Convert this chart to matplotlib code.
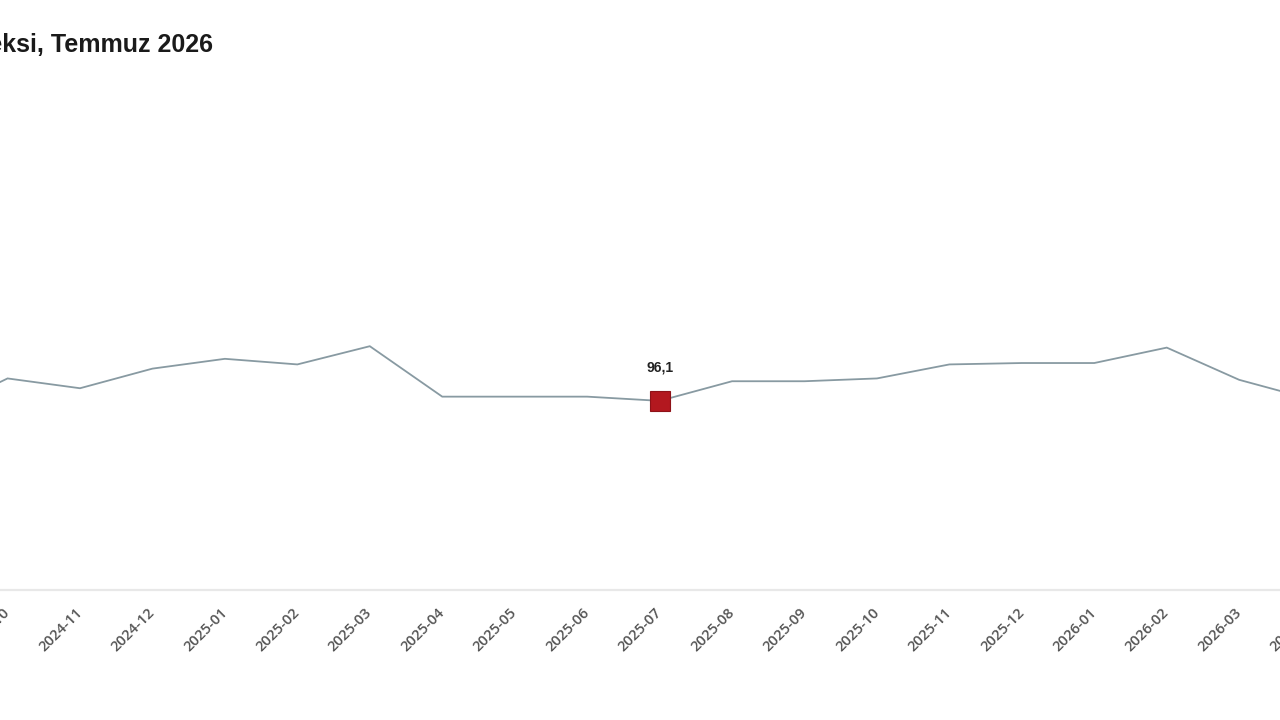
import matplotlib
matplotlib.use("Agg")
import matplotlib.pyplot as plt

# monthly index values (the view is cropped: first and last month sit outside the frame)
months = [
    "2024-09", "2024-10", "2024-11", "2024-12", "2025-01", "2025-02",
    "2025-03", "2025-04", "2025-05", "2025-06", "2025-07", "2025-08",
    "2025-09", "2025-10", "2025-11", "2025-12", "2026-01", "2026-02",
    "2026-03", "2026-04",
]
values = [
    95.2, 97.7, 97.0, 98.4, 99.1, 98.7,
    100.0, 96.4, 96.4, 96.4, 96.1, 97.5,
    97.5, 97.7, 98.7, 98.8, 98.8, 99.9,
    97.6, 96.2,
]
highlight = "2025-07"
highlight_label = "96,1"
title = "Endeksi, Temmuz 2026"

W, H = 1280, 720
fig = plt.figure(figsize=(W / 100, H / 100), dpi=100)

# axes deliberately wider than the figure to mimic the cropped view
ax_left_px, ax_right_px = -128, 1408
ax_top_px, ax_bottom_px = 80, 590
ax = fig.add_axes([
    ax_left_px / W,
    1 - ax_bottom_px / H,
    (ax_right_px - ax_left_px) / W,
    (ax_bottom_px - ax_top_px) / H,
])

first_px, step_px = -64.9, 72.45
ax.set_xlim(
    (ax_left_px - first_px) / step_px,
    (ax_right_px - first_px) / step_px,
)
ax.set_ylim(82.6, 119.0)

x = list(range(len(months)))
ax.plot(x, values, color="#889aa2", lw=1.3, solid_joinstyle="miter", zorder=2)

hi = months.index(highlight)
ax.plot(x[hi], values[hi], marker="s", ms=14, color="#b3181f",
        mec="#8e1218", mew=0.8, zorder=3)
ax.annotate(highlight_label, (x[hi], values[hi]), xytext=(0, 24),
            textcoords="offset points", ha="center", va="center",
            fontsize=10, fontweight="bold", color="#222222",
            family="Liberation Sans")

ax.set_xticks(x[1:])
ax.set_xticklabels(months[1:], rotation=45, ha="right", va="center",
                   rotation_mode="anchor", fontsize=10.5, fontweight=600,
                   color="#555555", family="Open Sans")
ax.tick_params(axis="x", length=0, pad=15)
ax.set_yticks([])

for side in ["top", "left", "right"]:
    ax.spines[side].set_visible(False)
ax.spines["bottom"].set_color("#e8e8e8")
ax.spines["bottom"].set_linewidth(1.6)

fig.text(213 / W, 1 - 45 / H, title, ha="right", va="center",
         fontsize=18, fontweight="bold", color="#1a1a1a",
         family="Liberation Sans")

fig.savefig("out.png", dpi=100, facecolor="white")
